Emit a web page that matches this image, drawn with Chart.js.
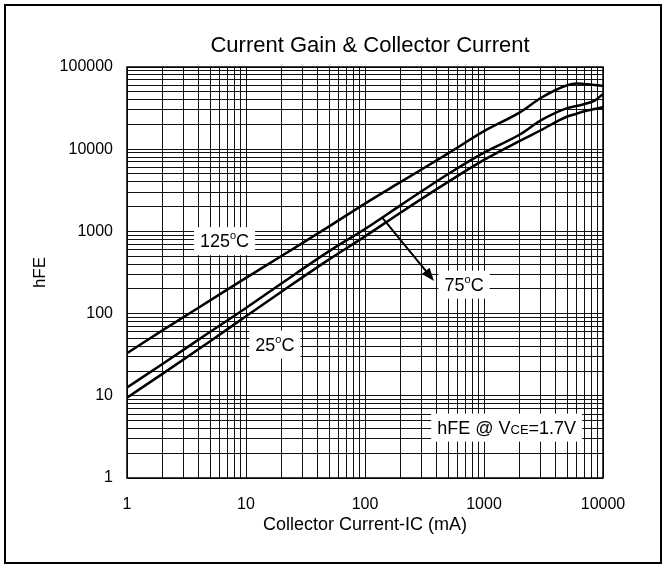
<!DOCTYPE html>
<html>
<head>
<meta charset="utf-8">
<script src="https://cdn.jsdelivr.net/npm/chart.js@4.4.0/dist/chart.umd.min.js"></script>
<style>
  html, body { margin: 0; padding: 0; background: #fff; }
  #wrap { width: 666px; height: 568px; position: relative; }
</style>
</head>
<body>
<div id="wrap"><canvas id="gainChart"></canvas></div>
<script>
// Collector current (mA) and hFE
const currentMA = [1, 2, 5, 10, 20, 50, 100, 200, 500, 1000, 2000, 3000, 5000, 6000, 7000, 8500, 10000];
const hfe125 = [33, 63, 145, 272, 505, 1150, 2180, 4000, 8900, 16600, 28000, 42000, 60000, 63000, 62000, 60500, 59000];
const hfe75 = [12.6, 24.5, 60, 117, 234, 575, 1070, 2090, 5000, 9100, 15100, 22400, 31600, 33500, 35500, 39000, 46800];
const hfe25 = [9.5, 18.6, 46, 93, 186, 457, 870, 1700, 4000, 7400, 12600, 17000, 25000, 27000, 29000, 30800, 32400];

const xTickLabels = ['1', '10', '100', '1000', '10000'];
const yTickLabels = ['1', '10', '100', '1000', '10000', '100000'];

const chartTitle = 'Current Gain & Collector Current';
const FONT = '"Liberation Sans", Arial, Helvetica, sans-serif';

function toPoints(xs, ys) {
    return xs.map((x, i) => ({ x: x, y: ys[i] }));
}

// gridlines at 1..9 of every decade
function decadeTicks(scale) {
    const ticks = [];
    for (let d = scale.min; d < scale.max; d *= 10) {
        for (let m = 1; m < 10; m++) ticks.push({ value: m * d });
    }
    ticks.push({ value: scale.max });
    scale.ticks = ticks;
}

function curveLine(label, data) {
    return {
        label: label,
        data: data,
        borderColor: '#000',
        borderWidth: 2.5,
        pointRadius: 0,
        fill: false,
        cubicInterpolationMode: 'monotone'
    };
}

// text label with white box, parts can be raised (degree sign) or smaller
function boxLabel(ctx, parts, cx, cy) {
    let total = 0;
    parts.forEach(p => {
        ctx.font = p.size + 'px ' + FONT;
        p.w = ctx.measureText(p.t).width;
        total += p.w;
    });
    const padX = 6, h = 28;
    ctx.fillStyle = '#fff';
    ctx.fillRect(cx - total / 2 - padX, cy - h / 2, total + padX * 2, h);
    ctx.fillStyle = '#000';
    ctx.textBaseline = 'alphabetic';
    ctx.textAlign = 'left';
    let x = cx - total / 2;
    const base = cy + 6;
    parts.forEach(p => {
        ctx.font = p.size + 'px ' + FONT;
        ctx.fillText(p.t, x, base + (p.dy || 0));
        x += p.w;
    });
}

function degParts(num) {
    return [
        { t: num, size: 18 },
        { t: 'o', size: 11, dy: -8 },
        { t: 'C', size: 18 }
    ];
}

const notesPlugin = {
    id: 'notes',
    afterDatasetsDraw(chart) {
        const ctx = chart.ctx;
        const xs = chart.scales.x, ys = chart.scales.y;
        const px = v => xs.getPixelForValue(v);
        const py = v => ys.getPixelForValue(v);
        const area = chart.chartArea;

        ctx.save();
        // plot frame
        ctx.strokeStyle = '#000';
        ctx.lineWidth = 1.5;
        ctx.strokeRect(area.left, area.top, area.right - area.left, area.bottom - area.top);

        // arrow from the 75 C curve to its label
        const x0 = px(139), y0 = py(1480), x1 = px(380), y1 = py(250);
        const ang = Math.atan2(y1 - y0, x1 - x0);
        ctx.lineWidth = 2;
        ctx.beginPath();
        ctx.moveTo(x0, y0);
        ctx.lineTo(x1 - 10 * Math.cos(ang), y1 - 10 * Math.sin(ang));
        ctx.stroke();
        ctx.beginPath();
        ctx.moveTo(x1, y1);
        ctx.lineTo(x1 - 13 * Math.cos(ang) + 5 * Math.sin(ang), y1 - 13 * Math.sin(ang) - 5 * Math.cos(ang));
        ctx.lineTo(x1 - 13 * Math.cos(ang) - 5 * Math.sin(ang), y1 - 13 * Math.sin(ang) + 5 * Math.cos(ang));
        ctx.closePath();
        ctx.fillStyle = '#000';
        ctx.fill();

        boxLabel(ctx, degParts('125'), px(6.6), py(760));
        boxLabel(ctx, degParts('75'), px(680), py(225));
        boxLabel(ctx, degParts('25'), px(17.5), py(42));
        boxLabel(ctx, [
            { t: 'hFE @ V', size: 18 },
            { t: 'CE', size: 13 },
            { t: '=1.7V', size: 18 }
        ], px(1550), py(4.1));

        // chart title, centred over the plot
        ctx.fillStyle = '#000';
        ctx.font = '22px ' + FONT;
        ctx.textAlign = 'center';
        ctx.textBaseline = 'middle';
        ctx.fillText(chartTitle, (area.left + area.right) / 2 + 5, 46);

        // outer frame of the figure
        ctx.lineWidth = 2;
        ctx.strokeRect(5, 5, chart.width - 10, chart.height - 10);
        ctx.restore();
    }
};

const ctx = document.getElementById('gainChart').getContext('2d');
new Chart(ctx, {
    type: 'line',
    data: {
        datasets: [
            curveLine('125°C', toPoints(currentMA, hfe125)),
            curveLine('75°C', toPoints(currentMA, hfe75)),
            curveLine('25°C', toPoints(currentMA, hfe25))
        ]
    },
    options: {
        responsive: true,
        maintainAspectRatio: false,
        animation: false,
        layout: { padding: { left: 20, right: 63, top: 67, bottom: 10 } },
        scales: {
            x: {
                type: 'logarithmic',
                min: 1,
                max: 10000,
                afterBuildTicks: decadeTicks,
                afterFit: s => { s.height = 80; },
                grid: { color: '#111', lineWidth: 1, drawTicks: false },
                border: { display: false },
                ticks: {
                    autoSkip: false,
                    maxRotation: 0,
                    padding: 17,
                    color: '#000',
                    font: { family: FONT, size: 16 },
                    callback: v => xTickLabels.includes(String(v)) ? String(v) : ''
                },
                title: {
                    display: true,
                    text: 'Collector Current-IC (mA)',
                    color: '#000',
                    font: { family: FONT, size: 18 },
                    padding: { top: 0, bottom: 22 }
                }
            },
            y: {
                type: 'logarithmic',
                min: 1,
                max: 100000,
                afterBuildTicks: decadeTicks,
                afterFit: s => { s.width = 107; },
                grid: { color: '#111', lineWidth: 1, drawTicks: false },
                border: { display: false },
                ticks: {
                    autoSkip: false,
                    padding: 14,
                    color: '#000',
                    font: { family: FONT, size: 16 },
                    callback: v => yTickLabels.includes(String(v)) ? String(v) : ''
                },
                title: {
                    display: true,
                    text: 'hFE',
                    color: '#000',
                    font: { family: FONT, size: 17 },
                    padding: { top: 10, bottom: 0 }
                }
            }
        },
        plugins: {
            legend: { display: false },
            tooltip: { enabled: false },
            title: { display: false }
        }
    },
    plugins: [notesPlugin]
});
</script>
</body>
</html>
